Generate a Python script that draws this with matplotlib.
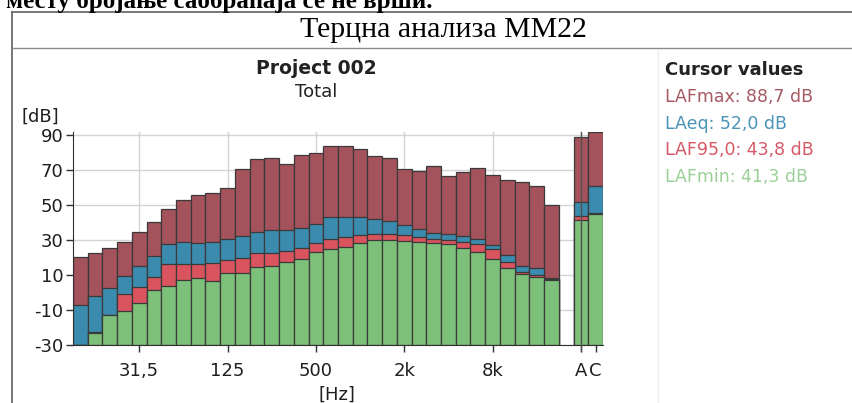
from matplotlib import pyplot as plt
from matplotlib.lines import Line2D
import numpy as np

plt.rcParams.update({
    "font.size": 13,
    "font.family": "DejaVu Sans",
    "axes.unicode_minus": False,
})

# 1/3 octave bands 12.5 Hz .. 20 kHz, then an empty slot, then A and C totals
bands = ["12,5", "16", "20", "25", "31,5", "40", "50", "63", "80", "100",
         "125", "160", "200", "250", "315", "400", "500", "630", "800", "1k",
         "1,25k", "1,6k", "2k", "2,5k", "3,15k", "4k", "5k", "6,3k", "8k",
         "10k", "12,5k", "16k", "20k", "", "A", "C"]

lafmax = [20.1, 22.4, 25.6, 29.0, 34.4, 40.5, 47.7, 52.9, 55.7, 56.7,
          59.5, 70.4, 76.1, 76.7, 73.2, 78.4, 79.5, 83.7, 83.9, 81.8,
          78.2, 76.7, 70.4, 69.4, 72.3, 66.6, 69.0, 71.0, 67.1, 64.3,
          63.3, 60.9, 50.0, np.nan, 88.7, 91.5]
laeq = [-7.1, -2.0, 2.8, 9.6, 15.1, 20.9, 27.7, 28.7, 28.5, 28.7,
        30.4, 32.3, 34.4, 35.7, 35.7, 37.0, 39.0, 43.0, 43.3, 43.3,
        41.8, 41.0, 38.6, 36.1, 33.8, 33.2, 32.5, 30.4, 27.0, 21.4,
        15.1, 13.8, 8.3, np.nan, 52.0, 60.9]
laf95 = [-30.0, -22.8, -12.6, -1.0, 3.3, 8.7, 16.5, 16.3, 16.3, 16.7,
         18.6, 19.9, 22.4, 22.4, 23.9, 25.6, 28.5, 30.4, 31.5, 32.9,
         33.4, 33.4, 32.9, 31.9, 30.4, 30.0, 29.0, 27.5, 24.9, 17.2,
         11.9, 10.0, 7.6, np.nan, 43.8, 45.3]
lafmin = [-30.0, -23.3, -13.0, -10.8, -5.8, 1.4, 3.7, 7.1, 8.1, 6.6,
          11.0, 11.3, 14.4, 15.3, 17.6, 19.1, 23.3, 24.9, 25.8, 28.1,
          30.0, 30.0, 29.6, 29.0, 28.5, 27.7, 25.6, 23.3, 19.1, 13.8,
          10.6, 9.0, 7.1, np.nan, 41.3, 44.9]

tick_bands = ["31,5", "125", "500", "2k", "8k", "A", "C"]
tick_labels = ["31,5", "125", "500", "2k", "8k", "A", "C"]
yticks = [-30, -10, 10, 30, 50, 70, 90]

series = [
    ("LAFmax", lafmax, "#A4525C", "#A65A63", "88,7"),
    ("LAeq", laeq, "#3B8BAE", "#4A93B8", "52,0"),
    ("LAF95,0", laf95, "#D9545F", "#D65866", "43,8"),
    ("LAFmin", lafmin, "#7DC07A", "#9CCF97", "41,3"),
]


def main():
    fig = plt.figure(figsize=(8.53, 4.03), dpi=100)
    ax = fig.add_axes([73 / 853, 58 / 403, 530 / 853, 212.6 / 403])

    x = np.arange(len(bands))
    floor = -30
    for name, vals, color, _, _ in series:
        v = np.array(vals, dtype=float)
        ax.bar(x, v - floor, bottom=floor, width=1.0, color=color,
               edgecolor="#3a3a3a", linewidth=0.9, zorder=2)

    tick_pos = [bands.index(b) for b in tick_bands]
    for p in tick_pos[:5]:
        ax.axvline(p, color="#d4d4d4", lw=1.0, zorder=1)
    ax.axvline(bands.index("A"), color="#505050", lw=1.0, zorder=3,
               ymin=-0.03, clip_on=False)

    ax.set_xlim(-0.5, len(bands) - 0.5)
    ax.set_ylim(-30, 91.5)
    ax.set_yticks(yticks)
    ax.set_xticks(tick_pos)
    ax.set_xticklabels(tick_labels)
    ax.grid(True, axis="y", color="#d4d4d4", lw=1.0, zorder=1)
    ax.set_axisbelow(True)
    ax.tick_params(direction="out", length=5, width=1, color="#303030",
                   labelcolor="#1e1e1e", labelsize=13, pad=2)
    ax.tick_params(axis="x", pad=7)
    for s in ["top", "right"]:
        ax.spines[s].set_visible(False)
    for s in ["left", "bottom"]:
        ax.spines[s].set_color("#303030")

    fig.text(22 / 853, 1 - 117 / 403, "[dB]", ha="left", va="center",
             fontsize=13, color="#1e1e1e")
    fig.text(337 / 853, 1 - 386 / 403, "[Hz]", ha="center", va="top",
             fontsize=13, color="#1e1e1e")
    fig.text(316 / 853, 1 - 68 / 403, "Project 002", ha="center",
             va="center", fontsize=13.5, fontweight="bold", color="#222222")
    fig.text(316 / 853, 1 - 92 / 403, "Total", ha="center", va="center",
             fontsize=13, color="#222222")

    # cursor values panel
    fig.text(665 / 853, 1 - 70 / 403, "Cursor values", ha="left",
             va="center", fontsize=13, fontweight="bold", color="#222222")
    for i, (name, _, _, tcolor, val) in enumerate(series):
        fig.text(665 / 853, 1 - (97 + 26.6 * i) / 403, f"{name}: {val} dB",
                 ha="left", va="center", fontsize=12.5, color=tcolor)

    # document text and table lines around the chart
    fig.text(433 / 853, 1 - 8 / 403, "месту бројање саобраћаја се не врши.",
             ha="right", va="baseline", fontsize=18,
             family="Liberation Serif", fontweight="bold")
    fig.text(443 / 853, 1 - 30 / 403, "Терцна анализа MM22", ha="center",
             va="center", fontsize=21.5, family="Liberation Serif")
    line_kw = dict(transform=fig.transFigure, color="#606060", lw=1.2)
    fig.add_artist(Line2D([12 / 853, 1], [1 - 12 / 403, 1 - 12 / 403], **line_kw))
    fig.add_artist(Line2D([12 / 853, 12 / 853], [0, 1 - 12 / 403], **line_kw))
    fig.add_artist(Line2D([12 / 853, 1], [1 - 48 / 403, 1 - 48 / 403],
                          transform=fig.transFigure, color="#8a8a8a", lw=1.0))
    fig.add_artist(Line2D([658 / 853, 658 / 853], [0, 1 - 50 / 403],
                          transform=fig.transFigure, color="#eeeeee", lw=1.0))

    fig.savefig("out.png", dpi=100)


if __name__ == "__main__":
    main()
